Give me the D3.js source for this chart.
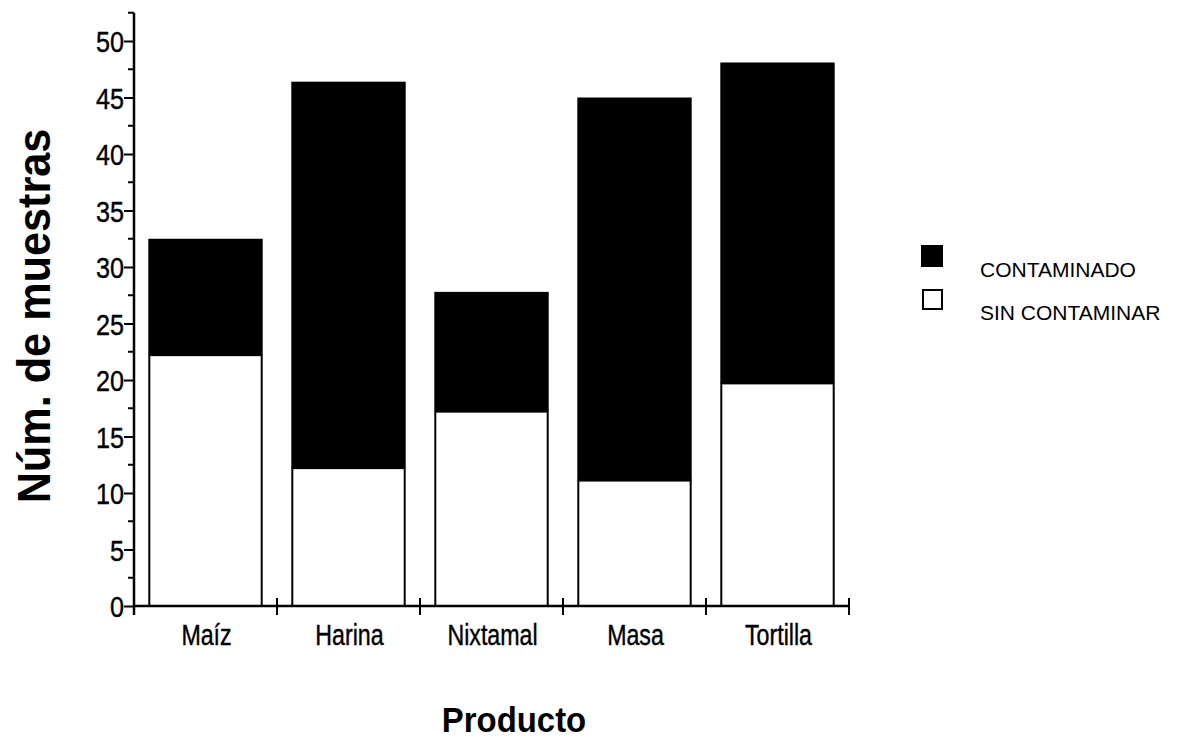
<!DOCTYPE html>
<html><head><meta charset="utf-8">
<script src="https://cdn.jsdelivr.net/npm/d3@7"></script>
<style>
html,body{margin:0;padding:0;background:#fff;}
svg{display:block;font-family:"Liberation Sans",Arial,sans-serif;}
</style></head>
<body>
<svg id="chart" width="1182" height="740"></svg>
<script>
const categories = ["Maíz","Harina","Nixtamal","Masa","Tortilla"];
const sinContaminar = [22.2, 12.2, 17.2, 11.1, 19.7];
const contaminado = [10.3, 34.2, 10.6, 33.9, 28.4];
const seriesNames = ["CONTAMINADO","SIN CONTAMINAR"];
const yTicks = [0,5,10,15,20,25,30,35,40,45,50];
const yMinorTicks = [2.5,7.5,12.5,17.5,22.5,27.5,32.5,37.5,42.5,47.5,52.5];

const svg = d3.select("#chart");
const y = d3.scaleLinear().domain([0,52.5]).range([606, 606-52.5*11.3]);
const x = d3.scaleBand().domain(categories).range([134,849]).paddingInner(0.2).paddingOuter(0.1);

const data = categories.map((c,i)=>({cat:c, sin:sinContaminar[i], con:contaminado[i]}));

// bars
const g = svg.append("g");
g.selectAll("rect.con").data(data).join("rect").attr("class","con")
  .attr("x", d=>x(d.cat)).attr("width", x.bandwidth())
  .attr("y", d=>y(d.sin+d.con)).attr("height", d=>y(d.sin)-y(d.sin+d.con))
  .attr("fill","#000");
g.selectAll("rect.sin").data(data).join("rect").attr("class","sin")
  .attr("x", d=>x(d.cat)+1).attr("width", x.bandwidth()-2)
  .attr("y", d=>y(d.sin)).attr("height", d=>y(0)-y(d.sin))
  .attr("fill","#fff").attr("stroke","#000").attr("stroke-width",2);

// y axis
const yAxis = d3.axisLeft(y).tickValues(yTicks).tickSize(10).tickPadding(0).tickSizeOuter(0);
const ya = svg.append("g").attr("transform","translate(134,0)").call(yAxis);
ya.select(".domain").remove();
ya.append("line").attr("x1",0).attr("x2",0).attr("y1",y(52.5)).attr("y2",615).attr("stroke","#000").attr("stroke-width",2.5);
ya.selectAll(".tick line").attr("stroke","#000").attr("stroke-width",2);
ya.selectAll(".tick text")
  .attr("font-size",30).attr("fill","#000").attr("stroke","#000").attr("stroke-width",0.4)
  .attr("font-family","Liberation Sans, Arial, sans-serif")
  .attr("x",-10/0.84).attr("dy","0.36em")
  .attr("transform","scale(0.84,1)");
ya.selectAll("line.minor").data(yMinorTicks).join("line").attr("class","minor")
  .attr("x1",-6).attr("x2",0).attr("y1",d=>y(d)).attr("y2",d=>y(d)).attr("stroke","#000").attr("stroke-width",2);

// x axis
const xa = svg.append("g").attr("transform","translate(0,606)");
xa.append("line").attr("x1",134).attr("x2",849).attr("y1",0).attr("y2",0).attr("stroke","#000").attr("stroke-width",2.5);
const bounds = categories.map((c,i)=>x(c)+x.bandwidth()+x.step()*x.paddingInner()/2);
xa.selectAll("line.tk").data(bounds).join("line").attr("class","tk")
  .attr("x1",d=>d).attr("x2",d=>d).attr("y1",-8).attr("y2",9).attr("stroke","#000").attr("stroke-width",2);
xa.selectAll("text").data(categories).join("text")
  .attr("transform", d=>`translate(${x(d)+x.bandwidth()/2+1},39) scale(0.8,1)`)
  .attr("text-anchor","middle").attr("font-size",29)
  .attr("stroke","#000").attr("stroke-width",0.4).text(d=>d);

// axis titles
svg.append("text").attr("transform","translate(50,316) rotate(-90) scale(0.94,1)")
  .attr("text-anchor","middle").attr("font-size",46).attr("font-weight","bold")
  .text("Núm. de muestras");
svg.append("text").attr("transform","translate(514,732) scale(0.94,1)")
  .attr("text-anchor","middle").attr("font-size",35).attr("font-weight","bold")
  .text("Producto");

// legend
const lg = svg.append("g");
lg.append("rect").attr("x",921).attr("y",245).attr("width",22).attr("height",22).attr("fill","#000");
lg.append("rect").attr("x",923).attr("y",290).attr("width",19).attr("height",19).attr("fill","#fff").attr("stroke","#000").attr("stroke-width",2);
lg.selectAll("text").data(seriesNames).join("text")
  .attr("x",980).attr("y",(d,i)=>277+i*43).attr("font-size",21).text(d=>d);
</script>
</body></html>
